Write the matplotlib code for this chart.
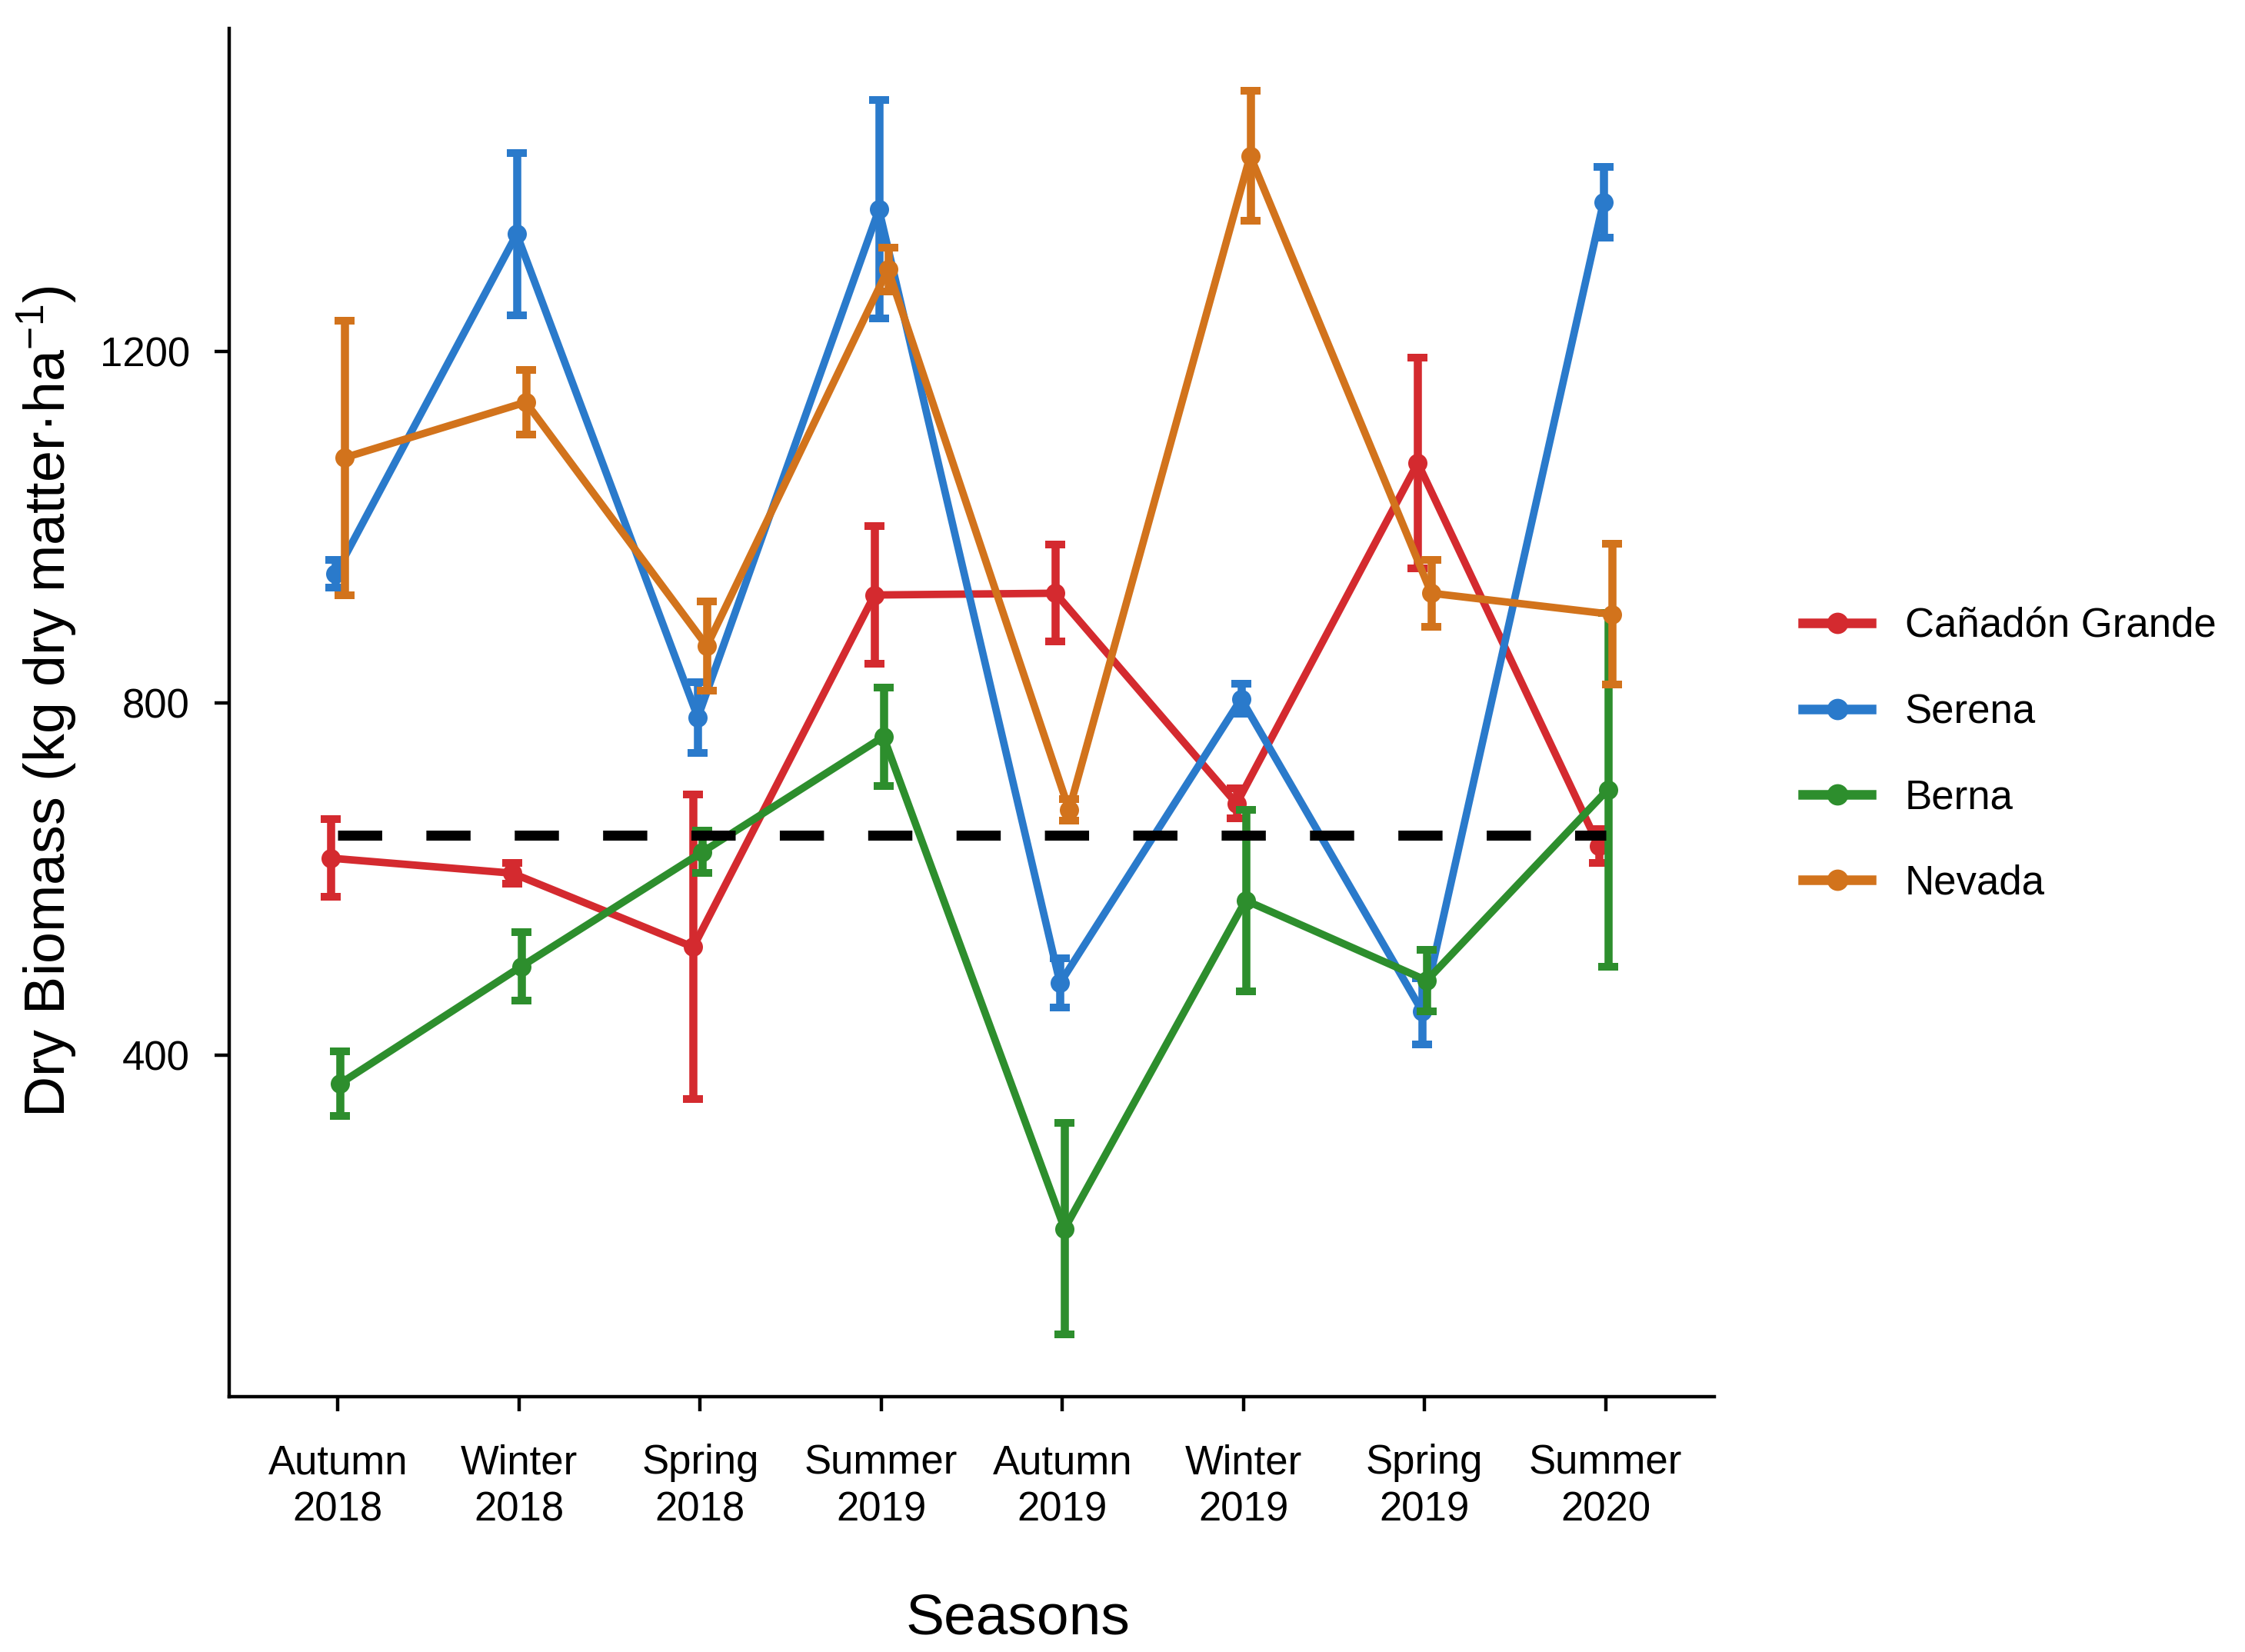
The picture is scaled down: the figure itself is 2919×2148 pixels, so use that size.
import matplotlib
matplotlib.use("Agg")
import matplotlib.pyplot as plt
from matplotlib.lines import Line2D
import numpy as np

plt.rcParams['font.family'] = ['Liberation Sans', 'DejaVu Sans']
plt.rcParams['mathtext.fontset'] = 'custom'
plt.rcParams['mathtext.rm'] = 'Liberation Sans'
plt.rcParams['mathtext.default'] = 'regular'

# data (mean and error per season)
seasons = ["Autumn\n2018", "Winter\n2018", "Spring\n2018", "Summer\n2019",
           "Autumn\n2019", "Winter\n2019", "Spring\n2019", "Summer\n2020"]
sites = ["Cañadón Grande", "Serena", "Berna", "Nevada"]

canadon_mean = [624, 607, 523, 923, 925, 686, 1073, 638]
canadon_err = [44, 12, 173, 78, 55, 17, 120, 19]
serena_mean = [947, 1333, 784, 1361, 482, 805, 450, 1369]
serena_err = [16, 92, 40, 124, 28, 17, 38, 40]
berna_mean = [368, 501, 631, 762, 203, 576, 485, 702]
berna_err = [37, 39, 24, 56, 120, 103, 35, 201]
nevada_mean = [1079, 1142, 865, 1293, 679, 1422, 925, 901]
nevada_err = [156, 37, 51, 25, 12, 74, 38, 80]
threshold = 650

means = [canadon_mean, serena_mean, berna_mean, nevada_mean]
errs = [canadon_err, serena_err, berna_err, nevada_err]
colors = ["#D42A2F", "#2A7ACB", "#2D8E2D", "#D2731C"]

fig = plt.figure(figsize=(14.595, 10.74), dpi=200)
ax = fig.add_axes([0.1021, 0.1546, 0.6615, 0.8282])

x = np.arange(1, len(seasons) + 1)
dodge = 0.1
offsets = (np.arange(len(sites)) - 1.5) * dodge / 4

for i in range(len(sites)):
    xs = x + offsets[i]
    m = np.array(means[i])
    e = np.array(errs[i])
    ax.errorbar(xs, m, yerr=e, fmt='none', ecolor=colors[i], elinewidth=3.8,
                capsize=4.8, capthick=3.6, zorder=2 + i * 0.1)
    ax.plot(xs, m, color=colors[i], lw=3.5, marker='o', ms=8, zorder=2.05 + i * 0.1)

ax.plot([x[0], x[-1]], [threshold, threshold], color='black', lw=4.7,
        dashes=(4.4, 4.4), zorder=5)

# y range like ggplot: data range plus 5%
lo = min(np.min(np.array(m) - np.array(e)) for m, e in zip(means, errs))
hi = max(np.max(np.array(m) + np.array(e)) for m, e in zip(means, errs))
pad = (hi - lo) * 0.05
ax.set_ylim(lo - pad, hi + pad)
ax.set_xlim(0.4, len(seasons) + 0.6)

ax.set_yticks([400, 800, 1200])
ax.set_xticks(x)
ax.set_xticklabels(seasons, linespacing=1.3)
ax.tick_params(length=7, width=1.6, labelsize=19, color='black')
ax.tick_params(axis='x', pad=15)
ax.tick_params(axis='y', pad=11.5)

for s in ['top', 'right']:
    ax.spines[s].set_visible(False)
for s in ['left', 'bottom']:
    ax.spines[s].set_linewidth(1.6)

ax.set_xlabel("Seasons", fontsize=27)
ax.xaxis.set_label_coords(0.531, -0.143)
ax.set_ylabel("Dry Biomass (kg dry matter·ha$^{-1}$)", fontsize=26.5)
ax.yaxis.set_label_coords(-0.1015, 0.508)

handles = [Line2D([0], [0], color=c, lw=4.5, marker='o', ms=9) for c in colors]
fig.legend(handles, sites, loc='center left', bbox_to_anchor=(0.803, 0.543),
           frameon=False, fontsize=19, handlelength=1.69, handletextpad=0.83,
           labelspacing=1.16, borderpad=0, borderaxespad=0)

fig.savefig("out.png", dpi=200)
